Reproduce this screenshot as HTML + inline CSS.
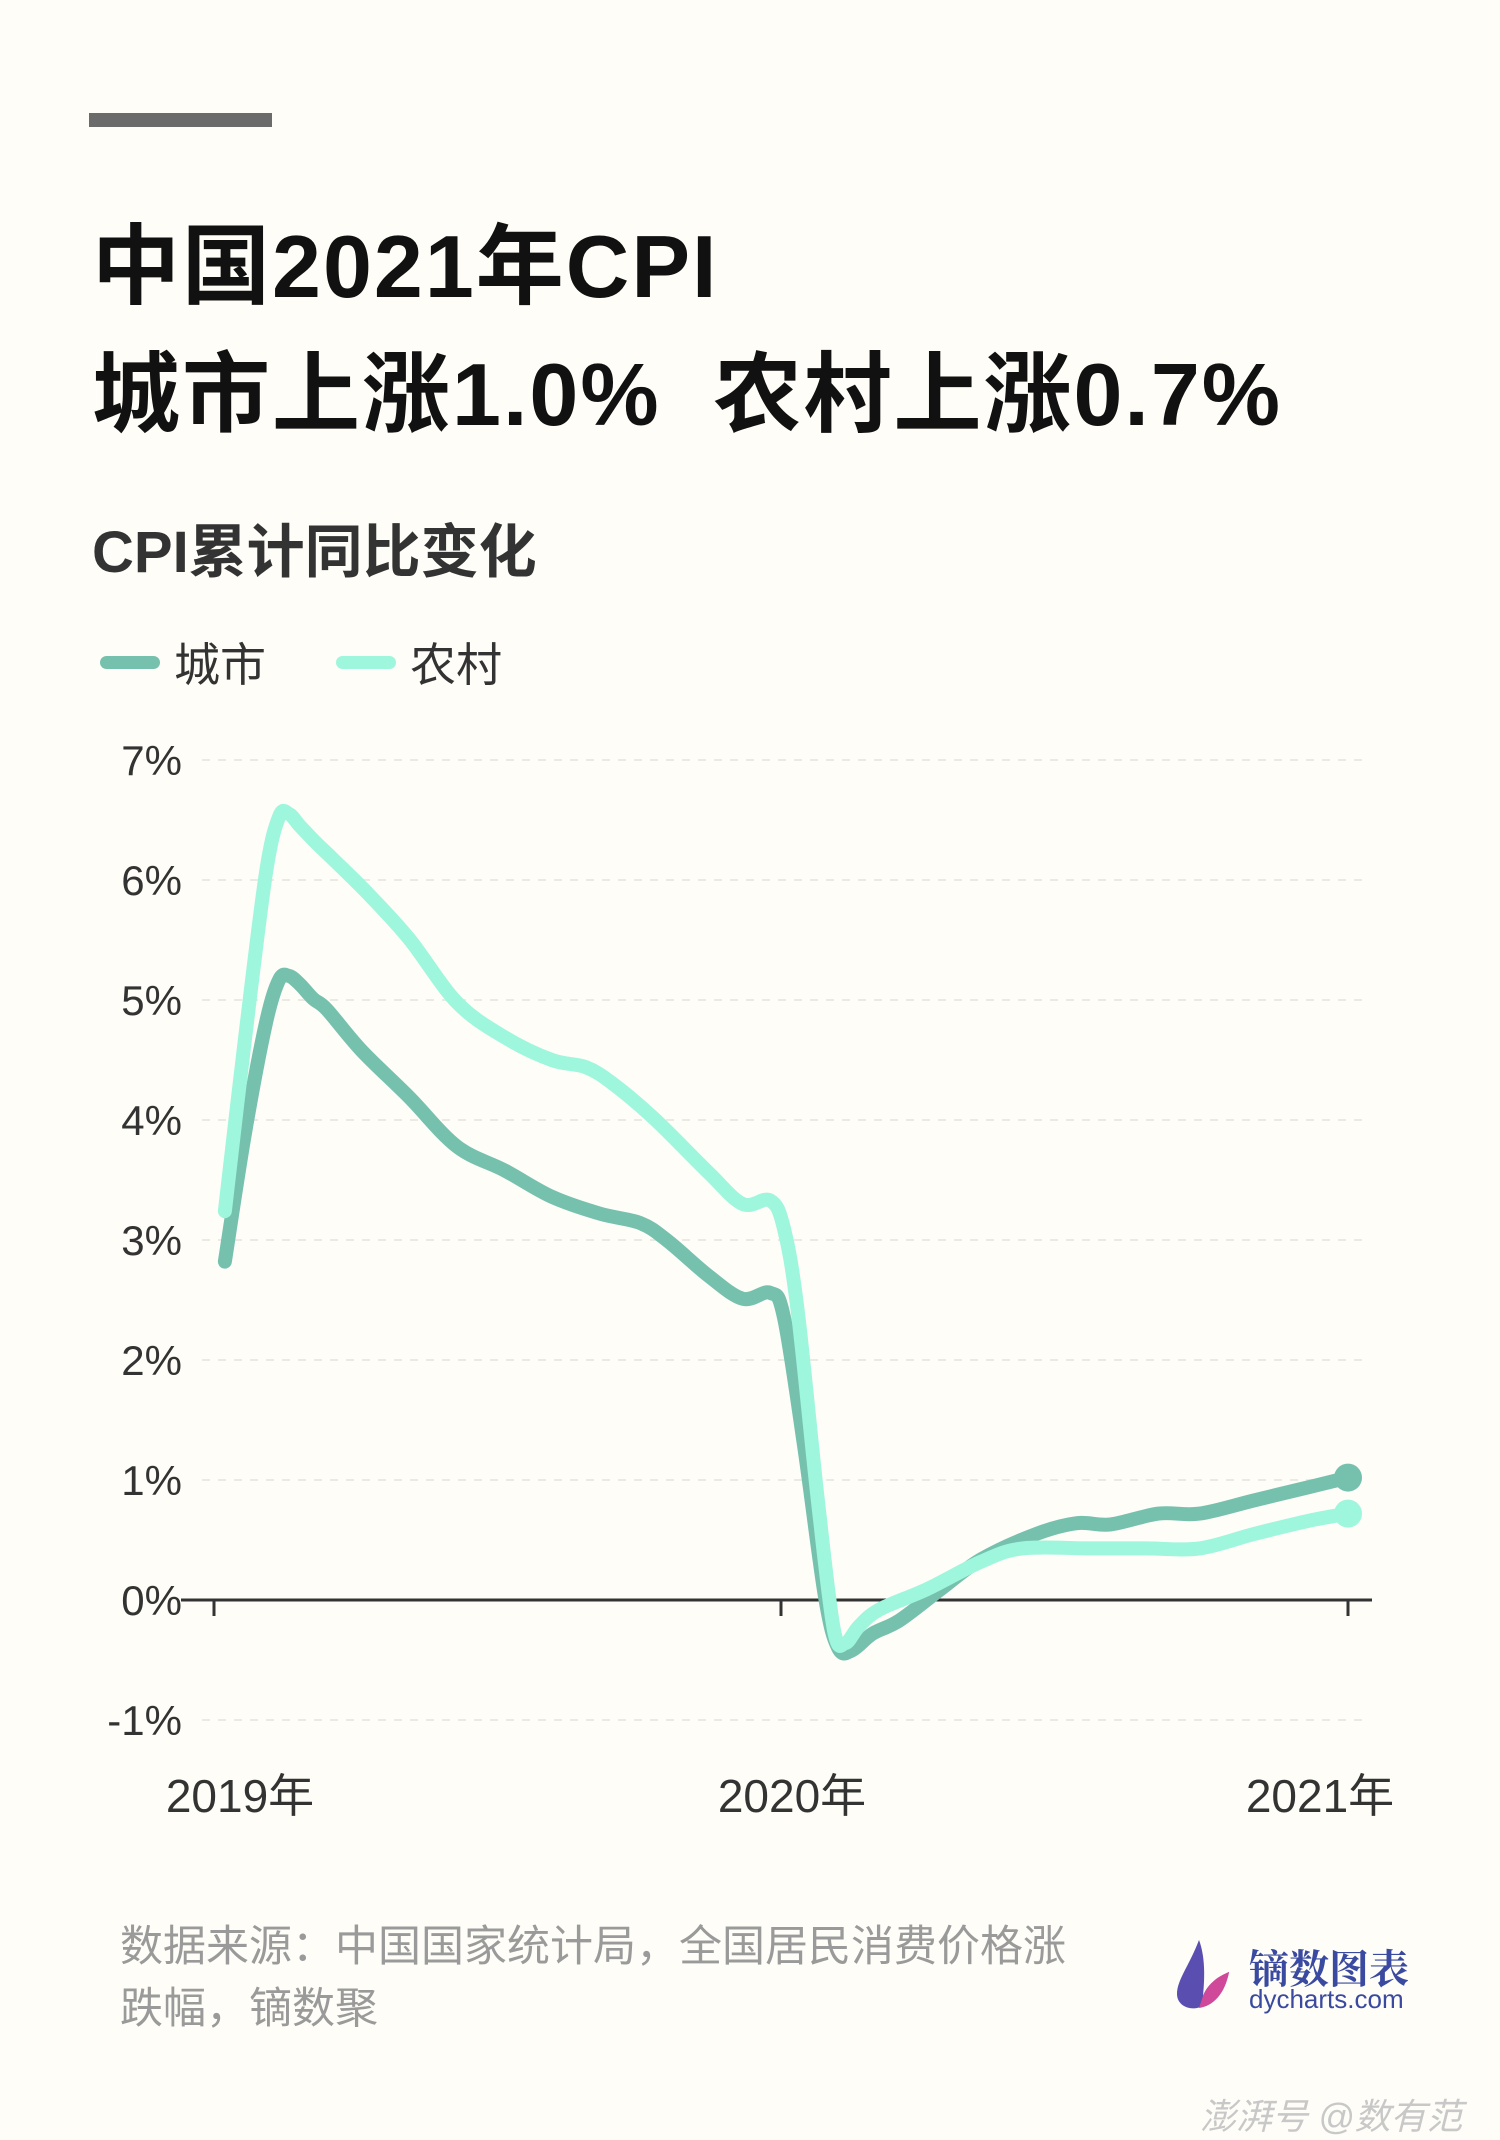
<!DOCTYPE html>
<html><head><meta charset="utf-8">
<style>
html,body{margin:0;padding:0;}
body{width:1500px;height:2138px;background:#fefdf7;position:relative;overflow:hidden;font-family:"Liberation Sans","Noto Sans CJK SC",sans-serif;}
.abs{position:absolute;}
</style></head><body>
<div class="abs" style="left:89px;top:113px;width:183px;height:14px;background:#6b6b6b"></div>
<div class="abs" style="left:92px;top:203px;font-size:88px;font-weight:bold;line-height:128px;color:#111;white-space:nowrap;letter-spacing:2px">中国2021年CPI<br>城市上涨1.0%&nbsp;&nbsp;农村上涨0.7%</div>
<div class="abs" style="left:92px;top:505px;font-size:58px;font-weight:bold;color:#333;white-space:nowrap">CPI累计同比变化</div>
<div class="abs" style="left:100px;top:632px;height:60px;display:flex;align-items:center">
 <div style="width:60px;height:13px;border-radius:7px;background:#76c1ad"></div>
 <span style="margin-left:14px;font-size:46px;color:#333">城市</span></div>
<div class="abs" style="left:336px;top:632px;height:60px;display:flex;align-items:center">
 <div style="width:60px;height:13px;border-radius:7px;background:#9ef6dc"></div>
 <span style="margin-left:14px;font-size:46px;color:#333">农村</span></div>

<svg class="abs" style="left:0;top:0" width="1500" height="2138">
<g id="grid"></g><g id="axis"></g><g id="series"></g>
</svg>

<div class="abs" style="left:120px;top:1916px;font-size:43px;line-height:62px;color:#9a9a9a;white-space:nowrap">数据来源：中国国家统计局，全国居民消费价格涨<br>跌幅，镝数聚</div>
<div class="abs" style="left:1169px;top:1936px;width:245px;height:76px">
 <svg width="62" height="76" style="position:absolute;left:0;top:0"><path d="M30 4 C20 30 8 44 8 58 C8 70 22 76 34 70 C50 62 58 48 60 36 C44 44 38 50 34 60 C36 40 36 20 30 4Z" fill="#5a4fb0"/><path d="M34 60 C40 46 50 40 60 36 C56 58 44 70 30 72Z" fill="#d0489a"/></svg>
 <div style="position:absolute;left:80px;top:2px;font-size:40px;font-weight:bold;color:#3a4aa0;font-family:'Noto Serif CJK SC',serif;white-space:nowrap">镝数图表</div>
 <div style="position:absolute;left:80px;top:48px;font-size:26px;color:#3a4aa0;white-space:nowrap">dycharts.com</div>
</div>
<div class="abs" style="left:1200px;top:2088px;font-size:36px;color:#c8c8c8;font-style:italic;white-space:nowrap">澎湃号 @数有范</div>

<script>
const yTicks=[7,6,5,4,3,2,1,0,-1];
const yTickLabels=["7%","6%","5%","4%","3%","2%","1%","0%","-1%"];
const xTickMonths=[0,12,24];
const xTickLabels=["2019年","2020年","2021年"];
const urbanMonths=[0.23,0.66,1.1,1.38,1.59,1.82,2.1,2.39,3.12,4.13,5.14,6.15,7.15,8.16,9.03,9.61,10.47,11.19,11.77,12.06,12.49,12.93,13.21,13.5,13.94,14.51,15.38,16.24,17.4,18.26,18.98,19.99,20.86,22.01,23.17,24];
const urbanValues=[2.82,3.9,4.81,5.17,5.2,5.13,5.01,4.92,4.58,4.19,3.78,3.58,3.36,3.22,3.14,2.99,2.7,2.51,2.56,2.36,1.28,0.03,-0.4,-0.42,-0.28,-0.17,0.09,0.34,0.55,0.64,0.63,0.72,0.72,0.83,0.94,1.02];
const ruralMonths=[0.23,0.66,1.1,1.38,1.59,1.82,2.16,2.53,3.25,4.13,5.14,6.15,7.15,7.87,8.45,9.32,10.47,11.19,11.77,12.06,12.35,12.78,13.12,13.36,13.65,14.08,15.09,16.24,17.11,18.55,19.7,20.86,22.01,23.17,24];
const ruralValues=[3.24,4.69,6.06,6.53,6.55,6.45,6.31,6.17,5.89,5.51,4.98,4.69,4.5,4.44,4.3,4.01,3.56,3.3,3.33,3.1,2.42,0.83,-0.25,-0.36,-0.22,-0.08,0.09,0.32,0.43,0.43,0.43,0.43,0.55,0.66,0.72];

const NS="http://www.w3.org/2000/svg";
function xS(m){return 214+m*(1348-214)/24;}
function yS(v){return 1600-v*120;}
function mk(t,a,p){const e=document.createElementNS(NS,t);for(const k in a)e.setAttribute(k,a[k]);p.appendChild(e);return e;}
const grid=document.getElementById('grid'),axis=document.getElementById('axis'),series=document.getElementById('series');
yTicks.forEach((v,i)=>{
  if(v!==0){const g=mk('line',{x1:202,x2:1364,y1:yS(v),y2:yS(v),stroke:'#ebebe4','stroke-width':2,'stroke-dasharray':'8 8'},grid);
  
  }
  const t=mk('text',{x:182,y:yS(v)+15,'text-anchor':'end','font-size':42,fill:'#333','font-family':'Liberation Sans, sans-serif'},axis);
  t.textContent=yTickLabels[i];
  
  
});
const ax=mk('line',{x1:181,x2:1372,y1:yS(0),y2:yS(0),stroke:'#333','stroke-width':3},axis);


xTickMonths.forEach((m,i)=>{
  const tk=mk('line',{x1:xS(m),x2:xS(m),y1:yS(0),y2:yS(0)+16,stroke:'#333','stroke-width':3},axis);
  
  
  const t=mk('text',{x:xS(m)+[26,11,-28][i],y:1812,'text-anchor':'middle','font-size':46,fill:'#333','font-family':'Liberation Sans, Noto Sans CJK SC, sans-serif'},axis);
  t.textContent=xTickLabels[i];
  
  
});
function path(ms,vs){
  const p=ms.map((m,i)=>[xS(m),yS(vs[i])]);
  let d='M'+p[0][0]+' '+p[0][1];
  for(let i=0;i<p.length-1;i++){
    const p0=p[i-1]||p[i],p1=p[i],p2=p[i+1],p3=p[i+2]||p2;
    d+=' C'+(p1[0]+(p2[0]-p0[0])/6)+' '+(p1[1]+(p2[1]-p0[1])/6)+' '+(p2[0]-(p3[0]-p1[0])/6)+' '+(p2[1]-(p3[1]-p1[1])/6)+' '+p2[0]+' '+p2[1];
  }
  return d;
}
const lu=mk('path',{d:path(urbanMonths,urbanValues),fill:'none',stroke:'#76c1ad','stroke-width':14,'stroke-linecap':'round','stroke-linejoin':'round'},series);


const lr=mk('path',{d:path(ruralMonths,ruralValues),fill:'none',stroke:'#9ef6dc','stroke-width':14,'stroke-linecap':'round','stroke-linejoin':'round'},series);


const cu=mk('circle',{cx:xS(urbanMonths[urbanMonths.length-1]),cy:yS(urbanValues[urbanValues.length-1]),r:14,fill:'#76c1ad'},series);


const cr=mk('circle',{cx:xS(ruralMonths[ruralMonths.length-1]),cy:yS(ruralValues[ruralValues.length-1]),r:14,fill:'#9ef6dc'},series);


</script>
</body></html>
